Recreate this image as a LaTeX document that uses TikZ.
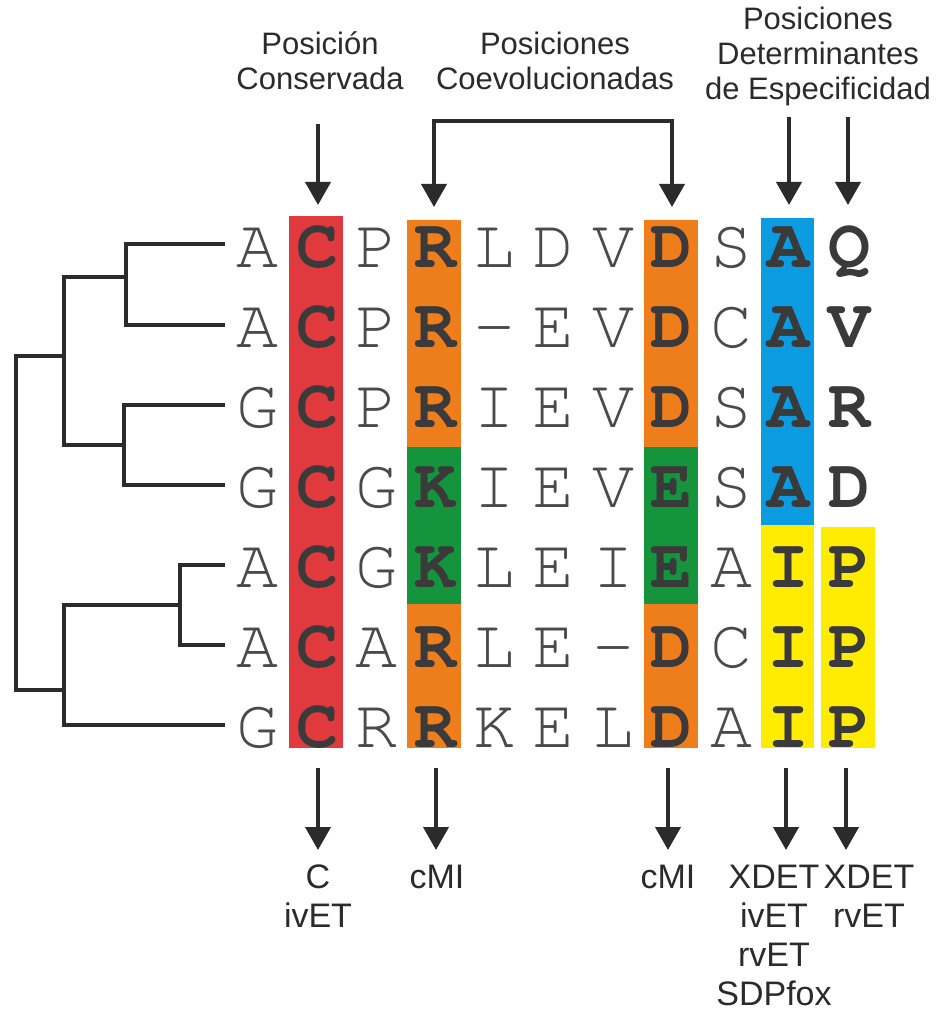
\documentclass[tikz,border=0pt]{standalone}
\usepackage{fontspec}
\setmainfont{Liberation Sans}
\newfontfamily\seqfont{TeX Gyre Cursor}
\usetikzlibrary{arrows.meta}
\definecolor{cred}{HTML}{E0393E}
\definecolor{corange}{HTML}{EE7D1B}
\definecolor{cgreen}{HTML}{14953D}
\definecolor{cblue}{HTML}{0A9BE0}
\definecolor{cyellow}{HTML}{FFEC00}
\definecolor{ink}{HTML}{2B2B2B}
\definecolor{reglet}{HTML}{4A4A4A}
\definecolor{boldlet}{HTML}{3A3A3A}
\tikzset{
  arr/.style={line width=4pt, draw=ink, -{Triangle[width=25pt,length=23pt]}},
  arrboth/.style={line width=4pt, draw=ink, {Triangle[width=25pt,length=23pt]}-{Triangle[width=25pt,length=23pt]}},
  tree/.style={line width=4pt, draw=ink, line cap=rect},
  reg/.style={font=\seqfont\fontsize{70}{70}\selectfont, text=reglet, anchor=base, inner sep=0pt},
  bld/.style={font=\seqfont\bfseries\fontsize{70}{70}\selectfont, text=boldlet, anchor=base, inner sep=0pt},
  toplab/.style={font=\fontsize{31}{35}\selectfont, text=ink, align=center, anchor=base, inner sep=0pt},
  botlab/.style={font=\fontsize{34}{39}\selectfont, text=ink, align=center, anchor=base, inner sep=0pt},
}
\begin{document}
\begin{tikzpicture}[x=1pt,y=-1pt]
\useasboundingbox (0,0) rectangle (945,1011);
\fill[white] (0,0) rectangle (945,1011);
% colour bars
\fill[cred] (289,216) rectangle (343,748);
\fill[corange] (407,220) rectangle (461,447);
\fill[cgreen] (407,447) rectangle (461,604);
\fill[corange] (407,604) rectangle (461,748);
\fill[corange] (644,220) rectangle (698,447);
\fill[cgreen] (644,447) rectangle (698,604);
\fill[corange] (644,604) rectangle (698,748);
\fill[cblue] (761,218) rectangle (814,525);
\fill[cyellow] (761,525) rectangle (814,748);
\fill[cyellow] (821,527) rectangle (875,748);
% sequences
\foreach \r/\seq in {1/{A,C,P,R,L,D,V,D,S,A,Q},
                     2/{A,C,P,R,-,E,V,D,C,A,V},
                     3/{G,C,P,R,I,E,V,D,S,A,R},
                     4/{G,C,G,K,I,E,V,E,S,A,D},
                     5/{A,C,G,K,L,E,I,E,A,I,P},
                     6/{A,C,A,R,L,E,-,D,C,I,P},
                     7/{G,C,R,R,K,E,L,D,A,I,P}}{
  \foreach \ch [count=\c from 0] in \seq {
    \pgfmathsetmacro\xx{{257,317,376,435,494,553,613,671,731,788,849}[\c]}
    \pgfmathsetmacro\yy{267+80*(\r-1)}
    \ifcase\c \def\st{reg}\or \def\st{bld}\or \def\st{reg}\or \def\st{bld}\or
      \def\st{reg}\or \def\st{reg}\or \def\st{reg}\or \def\st{bld}\or
      \def\st{reg}\or \def\st{bld}\or \def\st{bld}\fi
    \node[\st] (s\r-\c) at (\xx,\yy) {\ch};
  }
}
% tree
\coordinate (l1) at (223,244); \coordinate (l2) at (223,325);
\coordinate (l3) at (223,405); \coordinate (l4) at (223,485);
\coordinate (l5) at (223,565); \coordinate (l6) at (223,645);
\coordinate (l7) at (223,725);
\coordinate (n12) at (126,277); \coordinate (n34) at (124,445);
\coordinate (n56) at (180,605);
\coordinate (nA) at (64,356); \coordinate (nB) at (64,690);
\draw[tree] (l1) -| (n12) |- (l2);
\draw[tree] (l3) -| (n34) |- (l4);
\draw[tree] (l5) -| (n56) |- (l6);
\draw[tree] (n12) -| (nA) |- (n34);
\draw[tree] (n56) -| (nB) |- (l7);
\draw[tree] (nA) -| (16,523) |- (nB);
% top labels (anchor = baseline of last line)
\node[toplab] (lab1) at (320,90) {Posición\\Conservada};
\node[toplab] (lab2) at (555,90) {Posiciones\\Coevolucionadas};
\node[toplab] (lab3) at (818,100) {Posiciones\\Determinantes\\de Especificidad};
% top arrows
\coordinate (a1s) at (318,124); \coordinate (a1e) at (318,205);
\coordinate (a3e) at (434,207); \coordinate (a7e) at (672,207);
\coordinate (a9s) at (789,117); \coordinate (a9e) at (789,205);
\coordinate (a10s) at (848,117); \coordinate (a10e) at (848,205);
\draw[arr] (a1s) -- (a1e);
\draw[arrboth, line join=miter] (a3e) |- (553,121) -| (a7e);
\draw[arr] (a9s) -- (a9e);
\draw[arr] (a10s) -- (a10e);
% bottom arrows
\foreach \n/\x in {b1/318,b3/436,b7/668,b9/786,b10/846}{
  \coordinate (\n s) at (\x,768); \coordinate (\n e) at (\x,850);
  \draw[arr] (\n s) -- (\n e);
}
% bottom labels (anchor = baseline of last line)
\node[botlab] (m1) at (318,927) {C\\ivET};
\node[botlab] (m3) at (437,888) {cMI};
\node[botlab] (m7) at (668,888) {cMI};
\node[botlab] (m9) at (774,1005) {XDET\\ivET\\rvET\\SDPfox};
\node[botlab] (m10) at (869,927) {XDET\\rvET};
\end{tikzpicture}
\end{document}
